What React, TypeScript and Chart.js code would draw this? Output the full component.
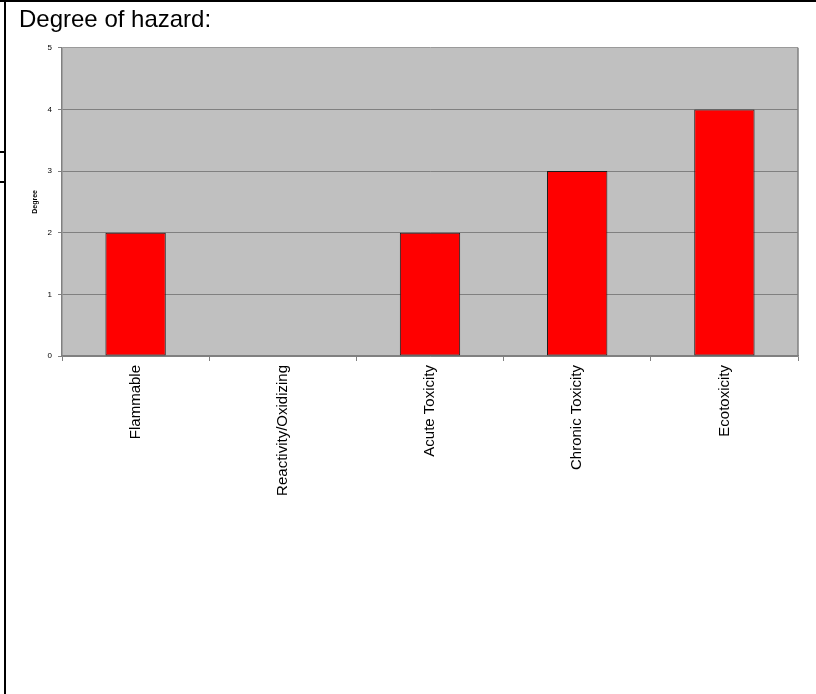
import React, { useEffect, useRef } from "react";
import { Chart, registerables } from "chart.js";

Chart.register(...registerables);

const categories = ["Flammable", "Reactivity/Oxidizing", "Acute Toxicity", "Chronic Toxicity", "Ecotoxicity"];
const degrees = [2, 0, 2, 3, 4];
const yMin = 0;
const yMax = 5;
const yStep = 1;
const chartTitle = "Degree of hazard:";
const yAxisTitle = "Degree";

const SANS = '"Liberation Sans", Arial, sans-serif';

const plotBackground = {
  id: "plotBackground",
  beforeDraw(chart: any) {
    const { ctx, chartArea } = chart;
    if (!chartArea) return;
    ctx.save();
    ctx.fillStyle = "#C0C0C0";
    ctx.fillRect(chartArea.left, chartArea.top, chartArea.right - chartArea.left, chartArea.bottom - chartArea.top);
    ctx.restore();
  },
  afterDraw(chart: any) {
    const { ctx, chartArea } = chart;
    if (!chartArea) return;
    ctx.save();
    ctx.strokeStyle = "#808080";
    ctx.lineWidth = 1.5;
    ctx.beginPath();
    ctx.moveTo(chartArea.right, chartArea.top);
    ctx.lineTo(chartArea.right, chartArea.bottom);
    ctx.stroke();
    ctx.restore();
  },
};

export default function App() {
  const canvasRef = useRef<HTMLCanvasElement | null>(null);

  useEffect(() => {
    if (!canvasRef.current) return;
    const chart = new Chart(canvasRef.current, {
      type: "bar",
      data: {
        labels: categories,
        datasets: [
          {
            data: degrees,
            backgroundColor: "#FF0000",
            borderColor: "#1a1a1a",
            borderWidth: (c: any) => (c.raw ? 1 : 0),
            borderSkipped: false,
            categoryPercentage: 1,
            barPercentage: 0.41,
          },
        ],
      },
      options: {
        animation: false,
        responsive: false,
        maintainAspectRatio: false,
        layout: { padding: { left: 19, right: 18, top: 0, bottom: 0 } },
        plugins: {
          legend: { display: false },
          tooltip: { enabled: false },
          title: {
            display: true,
            text: chartTitle,
            align: "start",
            color: "#000000",
            font: { family: SANS, size: 24, weight: "normal" },
            padding: { top: 5.5, bottom: 13.5 },
          },
        },
        scales: {
          x: {
            offset: true,
            afterFit: (scale: any) => {
              scale.height = 338;
            },
            grid: {
              display: true,
              offset: true,
              drawOnChartArea: false,
              drawTicks: true,
              tickLength: 5,
              color: "#808080",
              tickColor: "#808080",
            },
            border: { display: true, color: "#808080", width: 1.5 },
            ticks: {
              autoSkip: false,
              maxRotation: 90,
              minRotation: 90,
              padding: 4,
              color: "#000000",
              font: { family: SANS, size: 15 },
            },
          },
          y: {
            min: yMin,
            max: yMax,
            afterFit: (scale: any) => {
              scale.width = 43;
            },
            grid: {
              drawTicks: true,
              tickLength: 4,
              color: (c: any) => (c.tick && c.tick.value === yMax ? "#9a9a9a" : "#808080"),
              tickColor: "#808080",
              lineWidth: 1,
            },
            border: { display: true, color: "#808080", width: 1.5 },
            ticks: {
              stepSize: yStep,
              padding: 6,
              color: "#000000",
              font: { family: SANS, size: 8 },
            },
            title: {
              display: true,
              text: yAxisTitle,
              color: "#000000",
              font: { family: SANS, size: 7, weight: "bold" },
              padding: { top: 12, bottom: 0 },
            },
          },
        },
      },
      plugins: [plotBackground],
    });
    return () => chart.destroy();
  }, []);

  const line = (s: React.CSSProperties): React.CSSProperties => ({
    position: "absolute",
    background: "#000000",
    pointerEvents: "none",
    ...s,
  });

  return (
    <div style={{ position: "absolute", left: 0, top: 0, width: 816, height: 694, background: "#ffffff", overflow: "hidden" }}>
      <canvas ref={canvasRef} width={816} height={694} style={{ position: "absolute", left: 0, top: 0, width: 816, height: 694 }} />
      <div style={line({ left: 0, top: 0, width: 816, height: 2 })} />
      <div style={line({ left: 4, top: 0, width: 2, height: 694 })} />
      <div style={line({ left: 0, top: 151, width: 5, height: 2 })} />
      <div style={line({ left: 0, top: 181, width: 5, height: 2 })} />
    </div>
  );
}
